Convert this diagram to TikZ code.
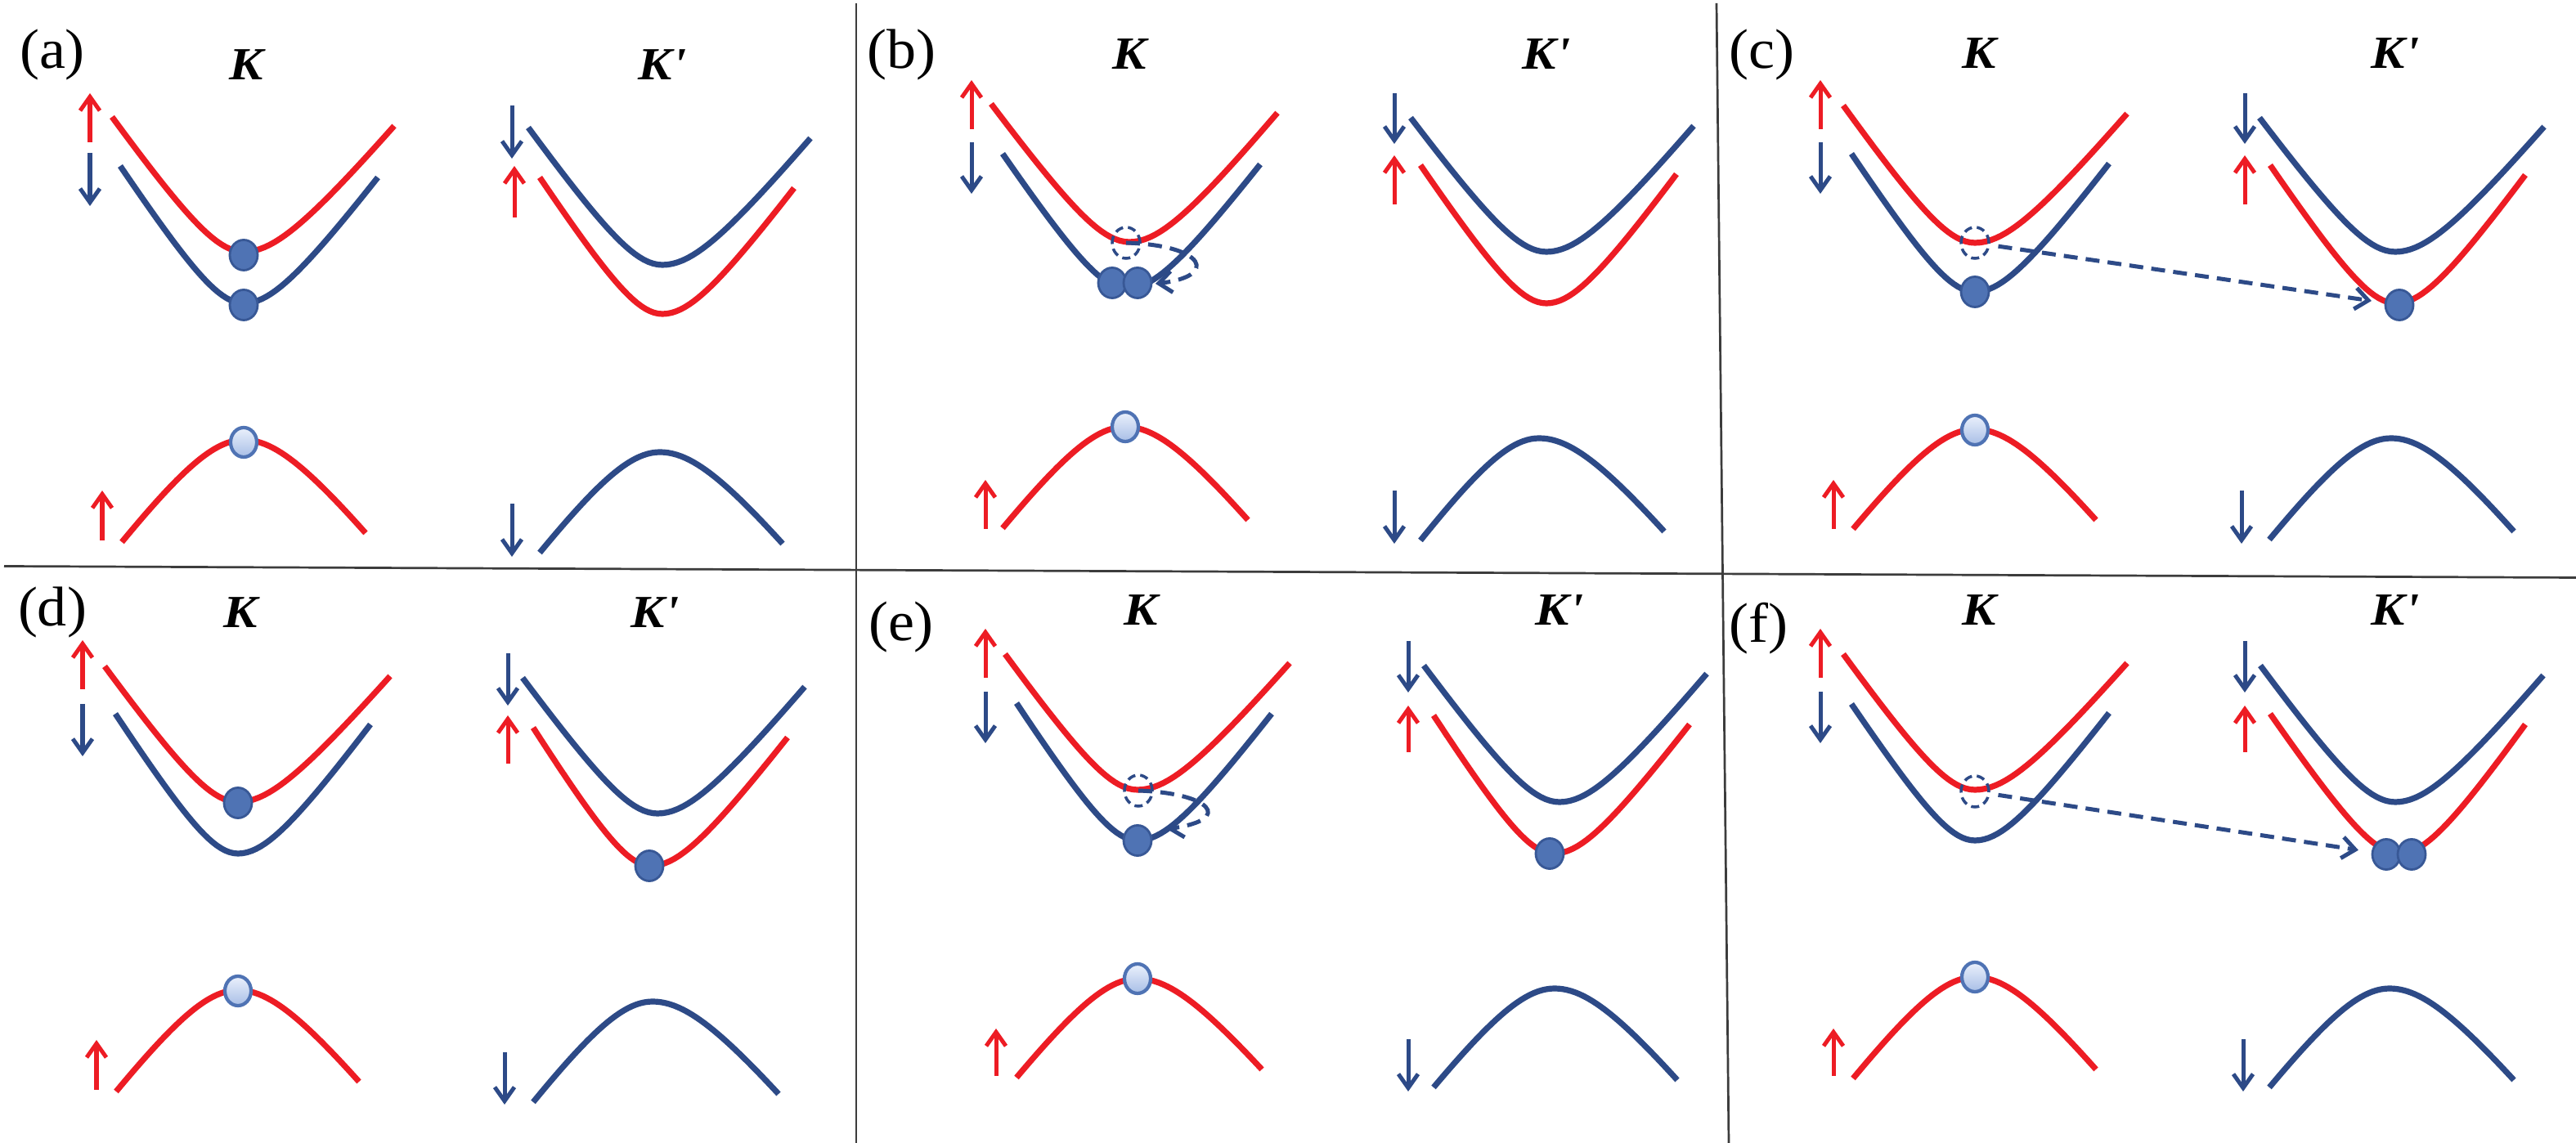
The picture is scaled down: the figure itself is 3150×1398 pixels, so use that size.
\documentclass[tikz,border=0pt]{standalone}
\usepackage{fontspec}
\usepackage{graphicx}
\setmainfont{Liberation Serif}
\usetikzlibrary{shapes.geometric,arrows.meta,calc}
\definecolor{bred}{RGB}{237,28,36}
\definecolor{bblue}{RGB}{45,74,135}
\definecolor{dotf}{RGB}{79,115,180}
\definecolor{dote}{RGB}{56,88,150}
\definecolor{holeA}{RGB}{235,241,252}
\definecolor{holeB}{RGB}{168,190,230}
\definecolor{divgray}{RGB}{60,60,60}
\tikzset{
 band/.style={line width=0.072cm},
 rband/.style={band,draw=bred},
 bband/.style={band,draw=bblue},
 spinarr/.style={line width=0.05cm,-{Straight Barb[length=0.17cm,width=0.24cm]}},
 edot/.style={ellipse,minimum width=0.34cm,minimum height=0.37cm,inner sep=0pt,fill=dotf,draw=dote,line width=0.8pt},
 hole/.style={ellipse,minimum width=0.32cm,minimum height=0.36cm,inner sep=0pt,top color=holeA,bottom color=holeB,draw=dotf,line width=1.2pt},
 dcirc/.style={ellipse,minimum width=0.34cm,minimum height=0.38cm,inner sep=0pt,draw=bblue,line width=0.035cm,dash pattern=on 0.1cm off 0.06cm},
 darr/.style={draw=bblue,line width=0.05cm,dash pattern=on 0.17cm off 0.1cm,-{Straight Barb[length=0.16cm,width=0.26cm]}},
 plabel/.style={font=\fontsize{19.5}{22}\selectfont,inner sep=0pt},
 klabel/.style={font=\fontsize{16}{18}\selectfont\bfseries\itshape,inner sep=0pt},
 divider/.style={draw=divgray,line width=0.027cm},
}
% #1 style, #2 xl, #3 yl, #4 x0, #5 y0, #6 xr, #7 yr, #8 c
\newcommand\bandcurve[8]{%
 \pgfmathsetmacro\bndC{#8/100}%
 \pgfmathsetmacro\bndS{sign(#5-#3)}%
 \pgfmathsetmacro\bndKL{sqrt((\bndS*(#5-#3)/100+\bndC)^2-\bndC^2)/((#4-#2)/100)}%
 \pgfmathsetmacro\bndKR{sqrt((\bndS*(#5-#7)/100+\bndC)^2-\bndC^2)/((#6-#4)/100)}%
 \draw[#1] plot[domain=#2:#4,samples=30] (\x,{#5-\bndS*100*(sqrt(\bndC*\bndC+\bndKL*\bndKL*((\x-#4)/100)^2)-\bndC)})
   -- plot[domain=#4:#6,samples=30] (\x,{#5-\bndS*100*(sqrt(\bndC*\bndC+\bndKR*\bndKR*((\x-#4)/100)^2)-\bndC)});%
}
\newcommand\cbnd[7]{\bandcurve{#1}{#2}{#3}{#4}{#5}{#6}{#7}{80}}
\newcommand\vbnd[7]{\bandcurve{#1}{#2}{#3}{#4}{#5}{#6}{#7}{100}}
\newcommand\spinarrow[4]{\draw[spinarr,#1] (#2,#3) -- (#2,#4);}
\newcommand\plab[1]{\scalebox{1.05}[1]{#1}}
\newcommand\klab[1]{\scalebox{1.1}[1]{#1}}
\begin{document}
\begin{tikzpicture}[x=0.01cm,y=-0.01cm]
\useasboundingbox (0,0) rectangle (3150,1398);
\fill[white] (0,0) rectangle (3150,1398);
% dividers
\draw[divider] (5,692.5) -- (3150,706.5);
\draw[divider] (1047,4) -- (1047,1398);
\draw[divider] (2099,4) -- (2114,1398);

% ---------- (a)
\node[plabel] (la) at (64,67) {\plab{(a)}};
\node[klabel] (a-K) at (301,79) {\klab{K}};
\node[klabel] (a-Kp) at (810,79) {\klab{K\textquotesingle}};
\spinarrow{bred}{110}{174}{114}
\spinarrow{bblue}{110}{187}{252}
\cbnd{rband}{137}{143}{298}{308}{482}{154}
\cbnd{bband}{147}{203}{298}{371}{462}{217}
\spinarrow{bblue}{626}{129}{194}
\spinarrow{bred}{629}{266}{203}
\cbnd{bband}{646}{156}{810}{324}{991}{169}
\cbnd{rband}{660}{217}{810}{384}{971}{230}
\vbnd{rband}{149}{663}{298}{538}{447}{652}
\spinarrow{bred}{125}{661}{600}
\vbnd{bband}{660}{676}{807}{553}{957}{665}
\spinarrow{bblue}{626}{616}{681}
\node[edot] (a-e1) at (298,312) {};
\node[edot] (a-e2) at (298,373) {};
\node[hole] (a-h) at (298,541) {};

% ---------- (b)
\node[plabel] (lb) at (1102,67) {\plab{(b)}};
\node[klabel] (b-K) at (1381,66) {\klab{K}};
\node[klabel] (b-Kp) at (1891,66) {\klab{K\textquotesingle}};
\spinarrow{bred}{1188}{158}{98}
\spinarrow{bblue}{1188}{174}{237}
\cbnd{rband}{1212}{127}{1381}{296}{1562}{138}
\cbnd{bband}{1226}{188}{1378}{353}{1541}{201}
\spinarrow{bblue}{1705}{114}{176}
\spinarrow{bred}{1705}{250}{190}
\cbnd{bband}{1725}{144}{1891}{308}{2071}{154}
\cbnd{rband}{1737}{202}{1891}{371}{2050}{213}
\vbnd{rband}{1226}{646}{1376}{522}{1526}{636}
\spinarrow{bred}{1205}{647}{587}
\vbnd{bband}{1737}{661}{1882}{536}{2035}{650}
\spinarrow{bblue}{1705}{600}{665}
\node[edot] (b-k1) at (1360,346) {};
\node[edot] (b-k2) at (1391,346) {};
\node[dcirc] (b-c) at (1377,297) {};
\node[hole] (b-h) at (1376,522) {};
\coordinate (b-tip) at (1413,347);
\draw[darr] (b-c.center) .. controls (1475,300) and (1490,338) .. (b-tip);

% ---------- (c)
\node[plabel] (lc) at (2154,67) {\plab{(c)}};
\node[klabel] (c-K) at (2420,65) {\klab{K}};
\node[klabel] (c-Kp) at (2929,65) {\klab{K\textquotesingle}};
\spinarrow{bred}{2226}{158}{98}
\spinarrow{bblue}{2226}{174}{237}
\cbnd{rband}{2254}{129}{2415}{297}{2601}{139}
\cbnd{bband}{2264}{188}{2415}{357}{2579}{200}
\spinarrow{bblue}{2745}{114}{176}
\spinarrow{bred}{2745}{250}{190}
\cbnd{bband}{2763}{144}{2929}{308}{3111}{155}
\cbnd{rband}{2776}{202}{2930}{371}{3088}{214}
\vbnd{rband}{2266}{647}{2415}{525}{2563}{636}
\spinarrow{bred}{2242}{647}{587}
\vbnd{bband}{2775}{660}{2924}{536}{3074}{650}
\spinarrow{bblue}{2741}{600}{665}
\node[edot] (c-k1) at (2415,357) {};
\node[edot] (c-k2) at (2934,373) {};
\node[dcirc] (c-c) at (2415,297) {};
\node[hole] (c-h) at (2415,526) {};
\draw[darr,shorten <=0.1cm,shorten >=0.16cm] (c-c) -- (c-k2);

% ---------- (d)
\node[plabel] (ld) at (64,749) {\plab{(d)}};
\node[klabel] (d-K) at (294,749) {\klab{K}};
\node[klabel] (d-Kp) at (801,749) {\klab{K\textquotesingle}};
\spinarrow{bred}{101}{843}{783}
\spinarrow{bblue}{101}{861}{925}
\cbnd{rband}{128}{815}{291}{981}{477}{827}
\cbnd{bband}{141}{873}{291}{1044}{453}{886}
\spinarrow{bblue}{621}{799}{863}
\spinarrow{bred}{621}{934}{875}
\cbnd{bband}{639}{829}{804}{995}{984}{840}
\cbnd{rband}{652}{890}{796}{1059}{963}{902}
\vbnd{rband}{142}{1335}{291}{1211}{439}{1323}
\spinarrow{bred}{118}{1333}{1272}
\vbnd{bband}{652}{1348}{798}{1225}{952}{1338}
\spinarrow{bblue}{617}{1287}{1351}
\node[edot] (d-k1) at (291,982) {};
\node[edot] (d-k2) at (794,1059) {};
\node[hole] (d-h) at (291,1212) {};

% ---------- (e)
\node[plabel] (le) at (1102,767) {\plab{(e)}};
\node[klabel] (e-K) at (1395,746) {\klab{K}};
\node[klabel] (e-Kp) at (1907,746) {\klab{K\textquotesingle}};
\spinarrow{bred}{1205}{829}{769}
\spinarrow{bblue}{1205}{846}{909}
\cbnd{rband}{1229}{800}{1391}{966}{1577}{811}
\cbnd{bband}{1243}{860}{1391}{1028}{1555}{873}
\spinarrow{bblue}{1722}{784}{847}
\spinarrow{bred}{1722}{920}{863}
\cbnd{bband}{1741}{814}{1907}{981}{2087}{824}
\cbnd{rband}{1753}{875}{1900}{1044}{2066}{886}
\vbnd{rband}{1243}{1318}{1391}{1197}{1543}{1308}
\spinarrow{bred}{1218}{1316}{1258}
\vbnd{bband}{1753}{1330}{1901}{1209}{2051}{1321}
\spinarrow{bblue}{1722}{1271}{1335}
\node[edot] (e-k1) at (1391,1028) {};
\node[edot] (e-k2) at (1895,1044) {};
\node[dcirc] (e-c) at (1392,967) {};
\node[hole] (e-h) at (1391,1197) {};
\coordinate (e-tip) at (1427,1014);
\draw[darr] (e-c.center) .. controls (1480,970) and (1510,1002) .. (e-tip);

% ---------- (f)
\node[plabel] (lf) at (2150,769) {\plab{(f)}};
\node[klabel] (f-K) at (2420,746) {\klab{K}};
\node[klabel] (f-Kp) at (2929,746) {\klab{K\textquotesingle}};
\spinarrow{bred}{2226}{829}{769}
\spinarrow{bblue}{2226}{846}{909}
\cbnd{rband}{2254}{800}{2415}{966}{2601}{811}
\cbnd{bband}{2264}{861}{2415}{1028}{2579}{872}
\spinarrow{bblue}{2745}{784}{847}
\spinarrow{bred}{2745}{920}{863}
\cbnd{bband}{2764}{814}{2929}{981}{3110}{826}
\cbnd{rband}{2776}{873}{2934}{1044}{3088}{886}
\vbnd{rband}{2266}{1319}{2415}{1195}{2563}{1308}
\spinarrow{bred}{2242}{1316}{1258}
\vbnd{bband}{2775}{1330}{2922}{1209}{3074}{1321}
\spinarrow{bblue}{2743}{1271}{1335}
\node[edot] (f-k1) at (2918,1045) {};
\node[edot] (f-k2) at (2949,1045) {};
\node[dcirc] (f-c) at (2415,968) {};
\node[hole] (f-h) at (2415,1195) {};
\draw[darr,shorten <=0.1cm,shorten >=0.16cm] (f-c) -- (f-k1);
\end{tikzpicture}
\end{document}
